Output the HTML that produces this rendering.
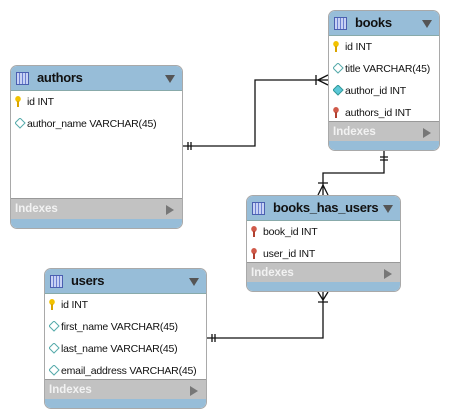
<!DOCTYPE html>
<html><head><meta charset="utf-8"><style>
body{margin:0;width:449px;height:418px;background:#fff;position:relative;overflow:hidden;font-family:"Liberation Sans",sans-serif;}
.t{position:absolute;border:1px solid #a9a9a9;border-radius:7px;background:#fff;overflow:hidden;box-sizing:border-box;}
.h{height:24px;background:#97bdd8;border-bottom:1px solid #8aa;position:relative;font-weight:bold;font-size:13px;letter-spacing:-0.3px;color:#111;line-height:24px;padding-left:26px;white-space:nowrap;}
.h .ic{position:absolute;left:5px;top:6px;width:11px;height:11px;border:1px solid #4a5fb0;background:repeating-linear-gradient(90deg,#c8d2f4 0 2px,#6b7fd0 2px 3px);}
.h .ar{position:absolute;right:7px;top:9px;width:0;height:0;border-left:5px solid transparent;border-right:5px solid transparent;border-top:8px solid #555;}
.r{height:22px;line-height:22px;font-size:10.5px;letter-spacing:-0.2px;color:#111;padding-left:16px;position:relative;white-space:nowrap;}
.r svg{position:absolute;left:4px;top:5px;}
.ix{position:absolute;left:0;right:0;height:21px;background:#c2c2c2;color:#f2f2f2;font-weight:bold;font-size:11.5px;line-height:21px;padding-left:4px;border-top:1px solid #999;}
.ix:after{content:"";position:absolute;right:8px;top:6px;border-top:5px solid transparent;border-bottom:5px solid transparent;border-left:8px solid #777;}
.bt{position:absolute;left:0;right:0;bottom:0;background:#97bdd8;}
</style></head><body>
<svg width="449" height="418" style="position:absolute;left:0;top:0" fill="none" stroke="#111" stroke-width="1.3">
<path d="M183 146 H255 V80 H328"/>
<path d="M188 142 V150 M191 142 V150"/>
<path d="M316 75 V85 M318 80 L328 75 M318 80 L328 85"/>
<path d="M384 151 V173 H323 V195"/>
<path d="M380 157 H388 M380 160 H388"/>
<path d="M318 183 H328 M323 185 L318 195 M323 185 L328 195"/>
<path d="M207 338 H323 V292"/>
<path d="M212 334 V342 M215 334 V342"/>
<path d="M318 302 H328 M323 300 L318 292 M323 300 L328 292"/>
</svg>

<svg width="0" height="0" style="position:absolute"><defs>
<g id="pk"><ellipse cx="3" cy="3" rx="2.8" ry="3" fill="#f2c200"/><rect x="2" y="5" width="2" height="6" fill="#d9a400"/></g>
<g id="fk"><ellipse cx="3" cy="3" rx="2.8" ry="3" fill="#d05a4a"/><rect x="2" y="5" width="2" height="6" fill="#b04030"/></g>
<g id="dm"><path d="M5 0 L10 5 L5 10 L0 5Z" fill="#fff" stroke="#5aa" stroke-width="1"/></g>
<g id="dmf"><path d="M5 0 L10 5 L5 10 L0 5Z" fill="#5cc8d8" stroke="#399" stroke-width="1"/></g>
</defs></svg>

<div class="t" style="left:10px;top:65px;width:173px;height:164px">
<div class="h"><span class="ic"></span>authors<span class="ar"></span></div>
<div class="r"><svg width="10" height="12"><use href="#pk"/></svg>id INT</div>
<div class="r"><svg width="11" height="11"><use href="#dm"/></svg>author_name VARCHAR(45)</div>
<div class="ix" style="top:132px">Indexes</div>
<div class="bt" style="height:9px"></div>
</div>

<div class="t" style="left:328px;top:10px;width:112px;height:141px">
<div class="h"><span class="ic"></span>books<span class="ar"></span></div>
<div class="r"><svg width="10" height="12"><use href="#pk"/></svg>id INT</div>
<div class="r"><svg width="11" height="11"><use href="#dm"/></svg>title VARCHAR(45)</div>
<div class="r"><svg width="11" height="11"><use href="#dmf"/></svg>author_id INT</div>
<div class="r"><svg width="10" height="12"><use href="#fk"/></svg>authors_id INT</div>
<div class="ix" style="top:110px">Indexes</div>
<div class="bt" style="height:9px"></div>
</div>

<div class="t" style="left:246px;top:195px;width:155px;height:97px">
<div class="h"><span class="ic"></span>books_has_users<span class="ar"></span></div>
<div class="r"><svg width="10" height="12"><use href="#fk"/></svg>book_id INT</div>
<div class="r"><svg width="10" height="12"><use href="#fk"/></svg>user_id INT</div>
<div class="ix" style="top:66px">Indexes</div>
<div class="bt" style="height:9px"></div>
</div>

<div class="t" style="left:44px;top:268px;width:163px;height:141px">
<div class="h"><span class="ic"></span>users<span class="ar"></span></div>
<div class="r"><svg width="10" height="12"><use href="#pk"/></svg>id INT</div>
<div class="r"><svg width="11" height="11"><use href="#dm"/></svg>first_name VARCHAR(45)</div>
<div class="r"><svg width="11" height="11"><use href="#dm"/></svg>last_name VARCHAR(45)</div>
<div class="r"><svg width="11" height="11"><use href="#dm"/></svg>email_address VARCHAR(45)</div>
<div class="ix" style="top:110px">Indexes</div>
<div class="bt" style="height:9px"></div>
</div>
</body></html>
